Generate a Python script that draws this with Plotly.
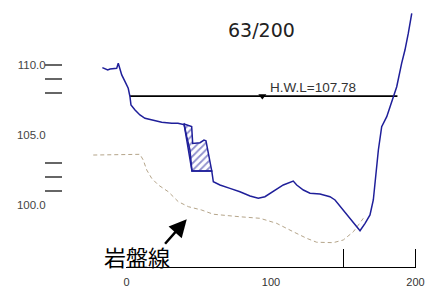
import plotly.graph_objects as go

# Ground line (distance, elevation)
ground_x = [-16.7, -14.9, -13.0, -11.4, -9.1, -6.8, -5.7, -4.5, -3.3, -1.0, 1.2, 2.4, 3.1, 5.9, 9.3,
            12.8, 17.4, 24.4, 31.3, 35.6, 39.3, 39.8, 41.7, 43.9, 45.3, 59.0, 60.1, 64.7, 71.6, 78.5,
            85.5, 91.2, 95.8, 101.6, 108.5, 115.4, 117.8, 122.4, 127.0, 133.9, 140.8, 144.3, 150.0,
            155.8, 159.3, 161.6, 165.1, 168.5, 170.8, 172.7, 174.3, 176.6, 180.1, 182.4, 184.6, 187.0,
            190.4, 192.7, 195.0, 197.4]
ground_y = [109.81, 109.71, 109.64, 109.71, 109.71, 109.76, 110.12, 109.76, 109.29, 108.81, 108.34,
            107.74, 107.14, 106.79, 106.43, 106.19, 106.07, 105.91, 105.84, 105.84, 105.76, 105.79,
            104.88, 103.93, 102.43, 102.43, 101.66, 101.43, 101.19, 100.95, 100.64, 100.48, 100.59,
            100.95, 101.43, 101.71, 101.43, 101.07, 100.84, 100.79, 100.59, 100.36, 99.64, 98.93,
            98.45, 98.16, 98.69, 99.29, 100.36, 102.26, 103.93, 105.59, 106.31, 107.02, 107.74,
            108.45, 110.12, 111.07, 112.26, 113.69]

# Hatched section outline
hatch_x = [39.8, 45.1, 45.8, 50.9, 53.6, 55.0, 59.0, 45.3, 39.8]
hatch_y = [105.79, 105.60, 104.40, 104.45, 104.64, 104.59, 102.43, 102.43, 105.79]

# Bedrock line
rock_x = [-23.0, 9.3, 11.6, 14.0, 17.4, 22.0, 28.9, 35.8, 42.8, 52.0, 60.1, 64.7, 78.5, 92.4,
          103.9, 115.4, 124.7, 131.6, 143.1, 150.0, 157.0, 163.9]
rock_y = [103.57, 103.62, 103.21, 102.5, 101.91, 101.43, 100.95, 100.24, 99.88, 99.64, 99.34,
          99.29, 99.16, 99.05, 98.69, 98.09, 97.62, 97.34, 97.31, 97.5, 98.09, 99.05]

# High water level
hwl = 107.78
hwl_x = [2.4, 187.5]
hwl_mark_x = 94.0

y_tick_vals = [100, 105, 110]
y_tick_text = ["100.0", "105.0", "110.0"]
y_minor_vals = [101, 102, 103, 108, 109, 110]
x_tick_vals = [0, 100, 200]
x_tick_text = ["0", "100", "200"]
x_minor_vals = [150, 200]

title_text = "63/200"
rock_label = "岩盤線"
arrow_tip = (41.7, 98.98)

XR = [-43.94, 203.11]
YR = [95.571, 113.93]
NAVY = "#1f1f9a"
FONT = "Liberation Sans, Arial, sans-serif"

fig = go.Figure()
fig.add_trace(go.Scatter(x=rock_x, y=rock_y, mode="lines",
                         line=dict(color="#b5a58a", width=1, dash="4px,3px"), hoverinfo="skip"))
fig.add_trace(go.Scatter(x=hatch_x, y=hatch_y, mode="lines", fill="toself",
                         fillcolor="white",
                         fillpattern=dict(shape="/", fgcolor=NAVY, bgcolor="white", size=5, solidity=0.35),
                         line=dict(color=NAVY, width=1.5), hoverinfo="skip"))
fig.add_trace(go.Scatter(x=hwl_x, y=[hwl, hwl], mode="lines",
                         line=dict(color="black", width=1.6), hoverinfo="skip"))
fig.add_trace(go.Scatter(x=ground_x, y=ground_y, mode="lines",
                         line=dict(color=NAVY, width=1.5), hoverinfo="skip"))
fig.add_trace(go.Scatter(x=[hwl_mark_x], y=[hwl], mode="markers",
                         marker=dict(symbol="triangle-down", size=7, color="black"), hoverinfo="skip"))
# dummy trace for the visible bottom axis
fig.add_trace(go.Scatter(x=[0, 200], y=[None, None], xaxis="x2", yaxis="y", mode="lines",
                         hoverinfo="skip"))

d0 = (0 - XR[0]) / (XR[1] - XR[0])
d1 = (200 - XR[0]) / (XR[1] - XR[0])

fig.update_layout(
    width=428, height=287,
    margin=dict(l=63, r=8, t=10, b=20, autoexpand=False),
    paper_bgcolor="white", plot_bgcolor="rgba(0,0,0,0)",
    showlegend=False,
    font=dict(family=FONT, color="#333333", size=11),
    xaxis=dict(range=XR, visible=False, domain=[0, 1], automargin=False),
    xaxis2=dict(range=[0, 200], domain=[d0, d1], anchor="y", side="bottom",
                showline=True, linecolor="black", linewidth=1, showgrid=False, zeroline=False,
                tickvals=x_tick_vals, ticktext=x_tick_text, ticks="", automargin=False,
                ticklabelstandoff=5,
                tickfont=dict(size=11, color="#333333"),
                minor=dict(tickvals=x_minor_vals, ticks="inside", ticklen=18,
                           tickcolor="black", tickwidth=1)),
    yaxis=dict(range=YR, showline=False, showgrid=False, zeroline=False, automargin=False,
               tickvals=y_tick_vals, ticktext=y_tick_text, ticks="outside", ticklen=14,
               tickcolor="rgba(0,0,0,0)", tickfont=dict(size=11.5, color="#444444"),
               minor=dict(tickvals=y_minor_vals, ticks="outside", ticklen=17,
                          tickcolor="#666666", tickwidth=1.5)),
)

fig.add_annotation(x=(261.7 - 63) / 357, y=(267 - 30) / 257, xref="paper", yref="paper",
                   xanchor="center", yanchor="middle",
                   text=title_text, showarrow=False,
                   font=dict(size=19, color="#222222", family="DejaVu Sans"))
fig.add_annotation(x=97.9, y=hwl, xref="x", yref="y", xanchor="left", yanchor="bottom",
                   text="H.W.L=" + str(hwl), showarrow=False, yshift=-1,
                   font=dict(size=13.5, color="#333333", family=FONT))
fig.add_annotation(x=(136.7 - 63) / 357, y=(267 - 256) / 257, xref="paper", yref="paper",
                   xanchor="center", yanchor="middle",
                   text=rock_label, showarrow=False,
                   font=dict(size=22, color="black", family="Noto Sans CJK JP"))
fig.add_annotation(x=arrow_tip[0], y=arrow_tip[1], xref="x", yref="y", text="",
                   showarrow=True, ax=-23, ay=26, arrowhead=2, arrowsize=1.4,
                   arrowwidth=2.5, arrowcolor="black")

fig.write_html("out.html", config={"displayModeBar": False},
               post_script="document.body.style.margin='0';document.body.style.padding='0';")
